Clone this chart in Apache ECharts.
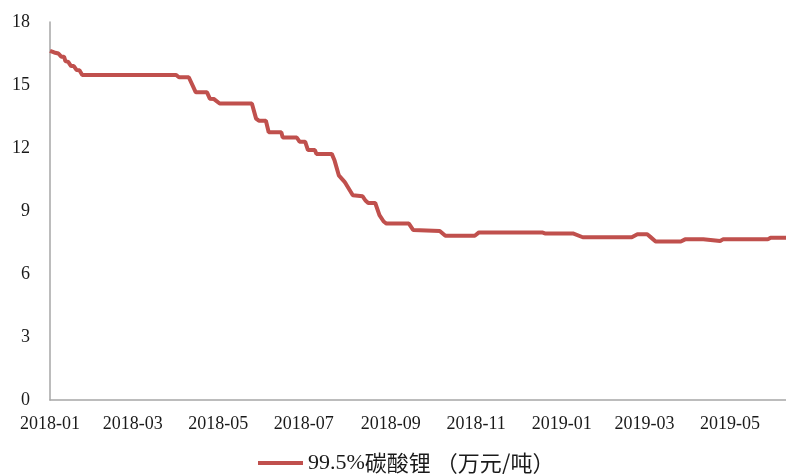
<!DOCTYPE html>
<html>
<head>
<meta charset="utf-8">
<script src="https://cdn.jsdelivr.net/npm/echarts@6/dist/echarts.min.js"></script>
<style>
  html, body { margin: 0; padding: 0; background: #fff; }
  #chart { width: 786px; height: 474px; }
</style>
</head>
<body>
<div id="chart"></div>
<script>
// 99.5%碳酸锂价格 (万元/吨)
var dates = [
    '2018-01-01', '2018-01-04', '2018-01-07', '2018-01-09', '2018-01-11', '2018-01-12',
    '2018-01-14', '2018-01-16', '2018-01-18', '2018-01-20', '2018-01-22', '2018-01-24',
    '2018-04-01', '2018-04-03', '2018-04-10', '2018-04-15', '2018-04-23', '2018-04-25',
    '2018-04-28', '2018-05-02', '2018-05-25', '2018-05-28', '2018-05-30', '2018-06-04',
    '2018-06-06', '2018-06-15', '2018-06-16', '2018-06-26', '2018-06-28', '2018-07-02',
    '2018-07-04', '2018-07-09', '2018-07-10', '2018-07-21', '2018-07-23', '2018-07-26',
    '2018-07-30', '2018-07-31', '2018-08-05', '2018-08-12', '2018-08-14', '2018-08-16',
    '2018-08-21', '2018-08-24', '2018-08-27', '2018-08-29', '2018-09-14', '2018-09-17',
    '2018-10-06', '2018-10-10', '2018-10-31', '2018-11-03', '2018-12-18', '2018-12-20',
    '2019-01-09', '2019-01-16', '2019-02-20', '2019-02-24', '2019-03-03', '2019-03-05',
    '2019-03-09', '2019-03-27', '2019-03-30', '2019-04-12', '2019-04-13', '2019-04-24',
    '2019-04-26', '2019-05-28', '2019-05-30', '2019-06-10'
]
var prices = [
    16.63, 16.55, 16.5, 16.35, 16.35, 16.14,
    16.1, 15.9, 15.9, 15.71, 15.7, 15.48,
    15.48, 15.37, 15.37, 14.65, 14.65, 14.35,
    14.33, 14.12, 14.12, 13.4, 13.3, 13.3,
    12.75, 12.75, 12.5, 12.5, 12.3, 12.3,
    11.9, 11.9, 11.72, 11.72, 11.4, 10.7,
    10.4, 10.3, 9.75, 9.7, 9.5, 9.38,
    9.38, 8.8, 8.5, 8.4, 8.4, 8.1,
    8.05, 7.82, 7.82, 7.98, 7.98, 7.93,
    7.93, 7.75, 7.75, 7.89, 7.89, 7.78,
    7.55, 7.55, 7.65, 7.65, 7.57, 7.57,
    7.65, 7.65, 7.73, 7.73
]
var nameLatin = '99.5%'
var nameCjk = '碳酸锂 （万元/吨）'
var seriesName = nameLatin + nameCjk
var xMin = '2018-01-01'
var xMax = '2019-06-10'

var serif = '"Liberation Serif", "Times New Roman", "Noto Sans CJK SC", serif'

var myChart = echarts.init(document.getElementById('chart'))

var points = []
for (var i = 0; i < dates.length; i++) {
    points.push([dates[i], prices[i]])
}

var option = {
    animation: false,
    grid: { left: 50, right: 0, top: 22, bottom: 74, containLabel: false },
    legend: {
        left: 258,
        top: 452,
        padding: 0,
        icon: 'rect',
        itemWidth: 45,
        itemHeight: 4,
        data: [seriesName],
        formatter: function () {
            return '{a|' + nameLatin + '}{b|' + nameCjk + '}'
        },
        textStyle: {
            color: '#1a1a1a',
            rich: {
                a: { fontFamily: serif, fontSize: 22, lineHeight: 24, color: '#1a1a1a' },
                b: { fontFamily: '"Noto Sans CJK SC"', fontSize: 22, lineHeight: 24, color: '#1a1a1a' }
            }
        }
    },
    xAxis: {
        type: 'time',
        min: xMin,
        max: xMax,
        maxInterval: 31 * 86400000,
        axisLine: { lineStyle: { color: '#a6a6a6', width: 1.5 } },
        axisTick: { show: false },
        splitLine: { show: false },
        axisLabel: {
            margin: 15,
            fontFamily: serif,
            fontSize: 18,
            color: '#1a1a1a',
            hideOverlap: false,
            showMinLabel: true,
            formatter: function (value) {
                var d = new Date(value)
                var m = d.getMonth() + 1
                if (d.getDate() !== 1 || m % 2 === 0) return ''
                return d.getFullYear() + '-' + (m < 10 ? '0' + m : m)
            }
        }
    },
    yAxis: {
        type: 'value',
        min: 0,
        max: 18,
        interval: 3,
        axisLine: { show: true, lineStyle: { color: '#a6a6a6', width: 1.5 } },
        axisTick: { show: false },
        splitLine: { show: false },
        axisLabel: { margin: 20, fontFamily: serif, fontSize: 18, color: '#1a1a1a' }
    },
    series: [
        {
            name: seriesName,
            type: 'line',
            data: points,
            showSymbol: false,
            color: '#c0504d',
            lineStyle: { color: '#c0504d', width: 4 }
        }
    ]
}

myChart.setOption(option)
</script>
</body>
</html>
